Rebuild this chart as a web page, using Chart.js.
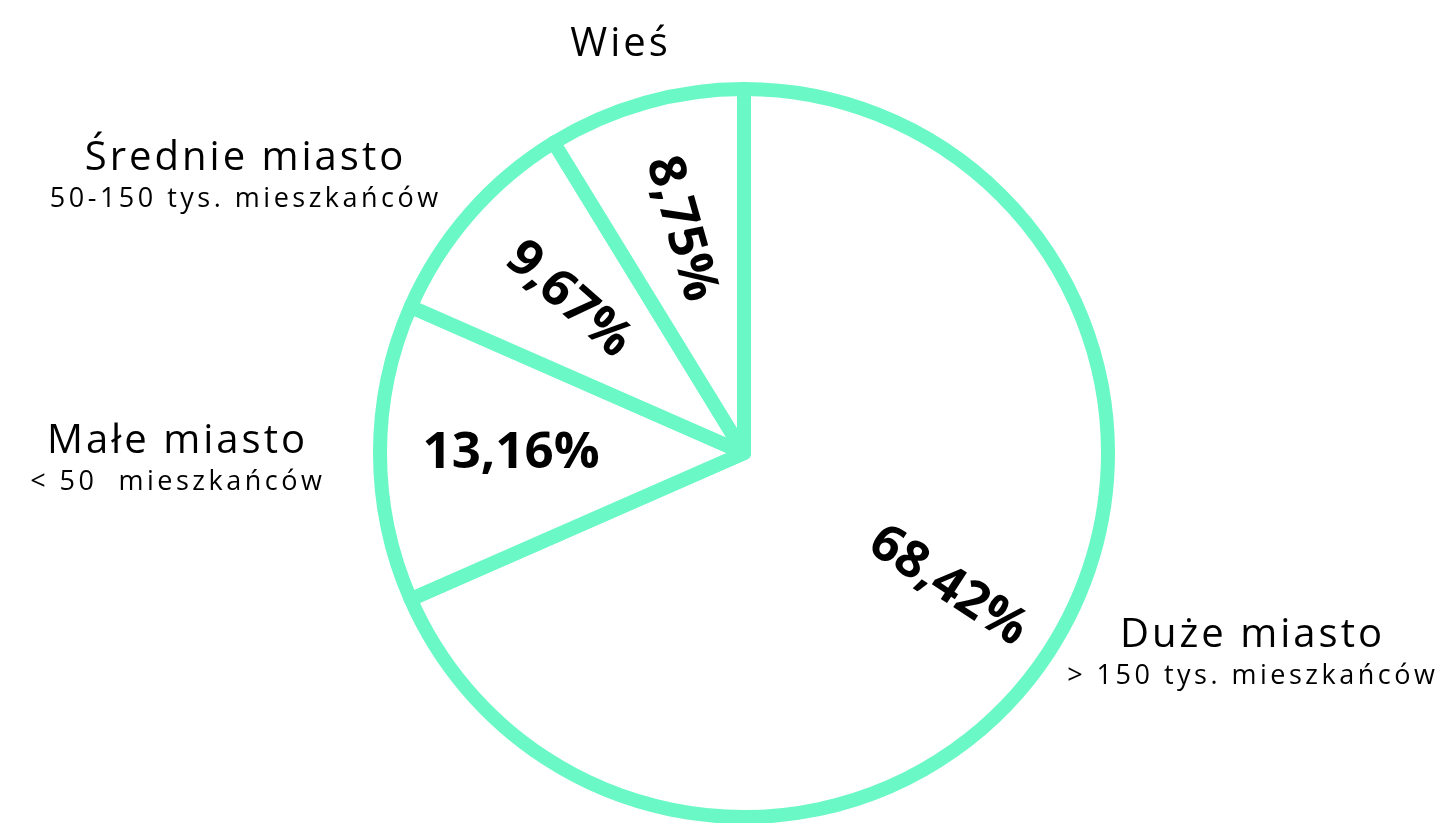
<!DOCTYPE html>
<html>
<head>
<meta charset="utf-8">
<script src="https://cdn.jsdelivr.net/npm/chart.js@4/dist/chart.umd.min.js"></script>
<style>
  body { margin: 0; background: #fff; }
  canvas { display: block; }
</style>
</head>
<body>
<canvas id="pieCanvas" width="1445" height="823"></canvas>
<script>
"use strict";
{
  // data
  const categories = ["Duże miasto", "Małe miasto", "Średnie miasto", "Wieś"];
  const subtitles = ["> 150 tys. mieszkańców", "< 50  mieszkańców", "50-150 tys. mieszkańców", ""];
  const shares = [68.42, 13.16, 9.67, 8.75];

  const mint = "#69f8c6";
  const fontFamily = "'Open Sans', 'Noto Sans', sans-serif";

  // where the outer labels sit (title baseline, block centre)
  const labelSpots = [
    { x: 1251, y: 647 },
    { x: 176, y: 453 },
    { x: 244, y: 170 },
    { x: 619, y: 56 },
  ];

  const percentText = (v) => v.toFixed(2).replace(".", ",") + "%";

  // letterSpacing leaves a trailing gap, so shift by half of it
  function spacedText(ctx, text, x, y, spacing) {
    ctx.letterSpacing = spacing + "px";
    ctx.fillText(text, x + spacing / 2, y);
    ctx.letterSpacing = "0px";
  }

  const sliceLabels = {
    id: "sliceLabels",
    afterDatasetsDraw(chart) {
      const ctx = chart.ctx;
      const arcs = chart.getDatasetMeta(0).data;
      ctx.save();
      ctx.fillStyle = "#000";
      ctx.textAlign = "center";
      ctx.textBaseline = "middle";
      ctx.font = "bold 51px " + fontFamily;
      arcs.forEach((arc, i) => {
        const mid = (arc.startAngle + arc.endAngle) / 2;
        const r = arc.outerRadius * (i === 0 ? 0.67 : 0.64);
        const x = arc.x + Math.cos(mid) * r;
        const y = arc.y + Math.sin(mid) * r;
        // text runs along the radius, kept readable
        let rot = mid + Math.PI;
        if (Math.cos(rot) < -0.001) rot += Math.PI;
        ctx.save();
        ctx.translate(x, y);
        ctx.rotate(rot);
        ctx.fillText(percentText(shares[i]), 0, 0);
        ctx.restore();
      });

      ctx.textBaseline = "alphabetic";
      categories.forEach((name, i) => {
        const spot = labelSpots[i];
        ctx.font = "40px " + fontFamily;
        spacedText(ctx, name, spot.x, spot.y, 3);
        if (subtitles[i]) {
          ctx.font = "27px " + fontFamily;
          spacedText(ctx, subtitles[i], spot.x, spot.y + 37, 3.5);
        }
      });
      ctx.restore();
    },
  };

  const pieCanvas = document.getElementById("pieCanvas");
  const pieChart = new Chart(pieCanvas, {
    type: "pie",
    data: {
      labels: categories,
      datasets: [
        {
          data: shares,
          backgroundColor: "#ffffff",
          borderColor: mint,
          borderWidth: 14,
          borderJoinStyle: "round",
          hoverOffset: 0,
        },
      ],
    },
    options: {
      responsive: false,
      animation: false,
      radius: 364,
      layout: { padding: { left: 43, right: 0, top: 83, bottom: 0 } },
      plugins: {
        legend: { display: false },
        tooltip: { enabled: false },
      },
    },
    plugins: [sliceLabels],
  });
}
</script>
</body>
</html>
